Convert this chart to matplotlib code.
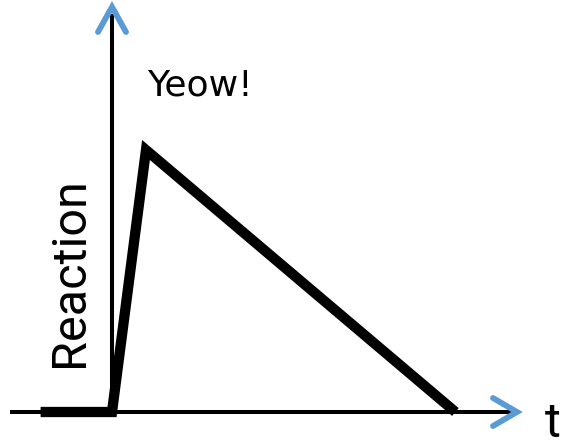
import matplotlib
matplotlib.use("Agg")
import matplotlib.pyplot as plt

# Data
time = [-1.05, 0.0, 0.5, 5.05]
reaction = [0.0, 0.0, 1.0, 0.0]
x_label = "t"
y_label = "Reaction"
note = "Yeow!"

W, H, DPI = 561, 447, 100
fig = plt.figure(figsize=(W / DPI, H / DPI), dpi=DPI)
ax = fig.add_axes([0, 0, 1, 1])
ax.set_axis_off()

# pixel mapping (origin at pixel (112, 412))
X0, Y0, KX, KY = 112, 412, 68.0, 262.0
ax.set_xlim(-X0 / KX, (W - X0) / KX)
ax.set_ylim(-(H - Y0) / KY, Y0 / KY)

def px(x, y):
    return (x - X0) / KX, (Y0 - y) / KY

blue = "#5B9BD5"
# axes lines
xa = [px(10, 412)[0], px(512, 412)[0]]
ax.plot(xa, [0, 0], color="black", lw=2.9, solid_capstyle="butt", zorder=2)
ya = [0, px(112, 14)[1]]
ax.plot([0, 0], ya, color="black", lw=2.9, solid_capstyle="butt", zorder=2)

# arrow heads
c1 = [px(98, 32), px(112, 7), px(126, 32)]
ax.plot([p[0] for p in c1], [p[1] for p in c1], color=blue, lw=4.2,
        solid_capstyle="round", solid_joinstyle="miter", zorder=3)
c2 = [px(493, 398), px(517, 412), px(493, 426)]
ax.plot([p[0] for p in c2], [p[1] for p in c2], color=blue, lw=4.2,
        solid_capstyle="round", solid_joinstyle="miter", zorder=3)

# data line
ax.plot(time, reaction, color="black", lw=7.4, solid_capstyle="butt",
        solid_joinstyle="miter", zorder=4)

# labels
fs = 35
ax.text(*px(93, 272), y_label, rotation=90, ha="right", va="center",
        fontsize=fs, family="Roboto", fontweight="normal", color="black")
ax.text(*px(545, 437), x_label, ha="left", va="baseline",
        fontsize=fs, family="Roboto", fontweight="normal", color="black")
ax.text(*px(147, 95), note, ha="left", va="baseline",
        fontsize=26, family="DejaVu Sans", color="black")

fig.savefig("out.png", dpi=DPI)
